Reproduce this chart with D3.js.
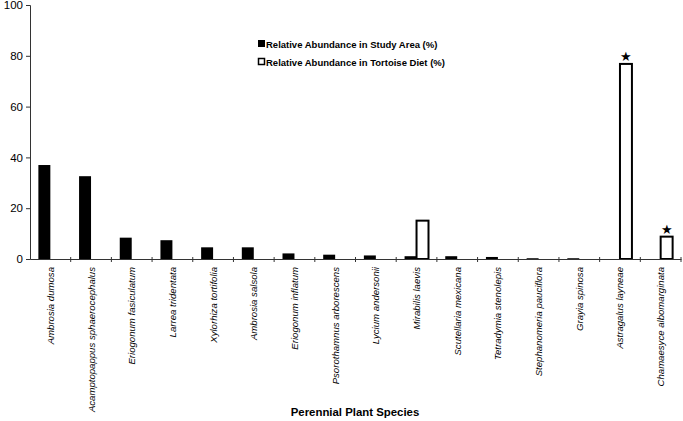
<!DOCTYPE html>
<html>
<head>
<meta charset="utf-8">
<script src="https://cdn.jsdelivr.net/npm/d3@7"></script>
<style>
  body { margin: 0; background: #fff; }
  svg { font-family: "Liberation Sans", Arial, sans-serif; }
</style>
</head>
<body>
<svg id="chart" width="683" height="421"></svg>
<script>
var species = [
  "Ambrosia dumosa", "Acamptopappus sphaerocephalus", "Eriogonum fasiculatum",
  "Larrea tridentata", "Xylorhiza tortifolia", "Ambrosia salsola",
  "Eriogonum inflatum", "Psorothamnus arborescens", "Lycium andersonii",
  "Mirabilis laevis", "Scutellaria mexicana", "Tetradymia stenolepis",
  "Stephanomeria pauciflora", "Grayia spinosa", "Astragalus layneae",
  "Chamaesyce albomarginata"
];
var studyArea = [37.0, 32.6, 8.4, 7.4, 4.6, 4.6, 2.2, 1.7, 1.4, 1.1, 1.1, 0.8, 0.3, 0.3, 0, 0];
var tortoiseDiet = [0, 0, 0, 0, 0, 0, 0, 0, 0, 15.1, 0, 0, 0, 0, 76.8, 8.8];
var starred = ["Astragalus layneae", "Chamaesyce albomarginata"];
var seriesNames = ["Relative Abundance in Study Area (%)", "Relative Abundance in Tortoise Diet (%)"];
var yTicks = [0, 20, 40, 60, 80, 100];

var svg = d3.select("#chart");
var plotLeft = 30, plotRight = 681, plotTop = 5, plotBottom = 259;

var x = d3.scaleBand().domain(species).range([plotLeft, plotRight]).padding(0);
var x1 = d3.scaleBand().domain([0, 1]).range([0, x.bandwidth()]).paddingInner(0).paddingOuter(0.7);
var y = d3.scaleLinear().domain([0, 100]).range([plotBottom, plotTop]);

// y axis
var yAxis = svg.append("g")
  .attr("transform", "translate(" + plotLeft + ",0)")
  .call(d3.axisLeft(y).tickValues(yTicks).tickSize(4).tickPadding(3));
yAxis.selectAll("text").style("font-size", "11.5px").attr("fill", "#000");
yAxis.selectAll("line,path").attr("stroke", "#333");

// bars
var rows = species.map(function (s, i) { return { name: s, v: [studyArea[i], tortoiseDiet[i]] }; });
var groups = svg.selectAll("g.grp").data(rows).enter().append("g")
  .attr("class", "grp")
  .attr("transform", function (d) { return "translate(" + x(d.name) + ",0)"; });

groups.append("rect")
  .attr("x", x1(0))
  .attr("width", x1.bandwidth())
  .attr("y", function (d) { return y(d.v[0]); })
  .attr("height", function (d) { return plotBottom - y(d.v[0]); })
  .attr("fill", "#000");

groups.filter(function (d) { return d.v[1] > 0; }).append("rect")
  .attr("x", x1(1))
  .attr("width", x1.bandwidth())
  .attr("y", function (d) { return y(d.v[1]); })
  .attr("height", function (d) { return plotBottom - y(d.v[1]); })
  .attr("fill", "#fff")
  .attr("stroke", "#000")
  .attr("stroke-width", 2);

groups.filter(function (d) { return starred.indexOf(d.name) >= 0; }).append("text")
  .attr("x", x1(1) + x1.bandwidth() / 2)
  .attr("y", function (d) { return y(d.v[1]) - 3; })
  .attr("text-anchor", "middle")
  .style("font-size", "13px")
  .text("\u2605");

// x axis
var xAxis = svg.append("g")
  .attr("transform", "translate(0," + plotBottom + ")")
  .call(d3.axisBottom(x).tickSize(0).tickFormat(""));
xAxis.select("path").attr("stroke", "#333");
// tick marks at category boundaries
svg.append("g").selectAll("line")
  .data(species.slice(1).concat(["__end"]))
  .enter().append("line")
  .attr("x1", function (d, i) { return i < species.length - 1 ? x(d) : plotRight; })
  .attr("x2", function (d, i) { return i < species.length - 1 ? x(d) : plotRight; })
  .attr("y1", plotBottom - 2)
  .attr("y2", plotBottom + 3)
  .attr("stroke", "#333");

svg.append("g").selectAll("text")
  .data(species).enter().append("text")
  .attr("transform", function (d) {
    return "translate(" + (x(d) + x.bandwidth() / 2 + 3.5) + "," + (plotBottom + 8) + ") rotate(-90)";
  })
  .attr("text-anchor", "end")
  .style("font-size", "9.6px")
  .style("font-style", "italic")
  .text(function (d) { return d; });

svg.append("text")
  .attr("x", 355)
  .attr("y", 416)
  .attr("text-anchor", "middle")
  .style("font-size", "11.4px")
  .style("font-weight", "bold")
  .text("Perennial Plant Species");

// legend
var legend = svg.append("g").attr("transform", "translate(258,0)");
seriesNames.forEach(function (name, i) {
  var ly = 44 + i * 18;
  legend.append("rect")
    .attr("x", 0.5).attr("y", ly - 3.5)
    .attr("width", 6).attr("height", 6)
    .attr("fill", i === 0 ? "#000" : "#fff")
    .attr("stroke", "#000").attr("stroke-width", i === 0 ? 1 : 1.5);
  legend.append("text")
    .attr("x", 8).attr("y", ly + 3.5)
    .style("font-size", "9.5px")
    .style("font-weight", "bold")
    .text(name);
});
</script>
</body>
</html>
